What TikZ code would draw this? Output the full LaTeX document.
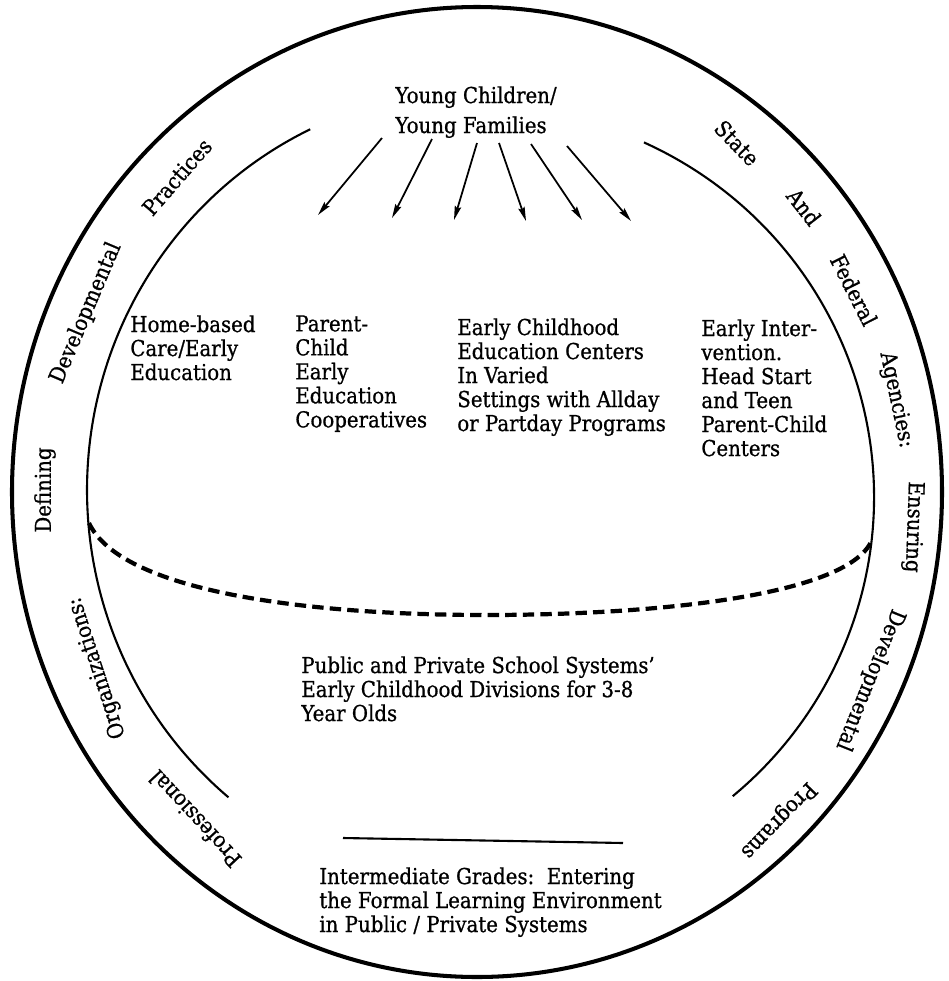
\documentclass[tikz,border=0pt]{standalone}
\usepackage{fontspec}
\setmainfont{DejaVu Serif}[FakeStretch=0.9, FakeBold=0.8]
\usetikzlibrary{arrows.meta}
\begin{document}
\begin{tikzpicture}[
  x=0.02cm, y=-0.02cm,
  box/.style={anchor=north west, align=left, inner sep=0pt, font=\fontsize{12.5}{13.66}\selectfont},
  ring/.style={inner sep=0pt, font=\fontsize{12.5}{15}\selectfont},
  rim/.style={line width=2.3pt},
  inner/.style={line width=1.2pt},
  divide/.style={line width=2.4pt, dash pattern=on 6.5pt off 3.5pt},
  feed/.style={line width=1pt, -{Stealth[length=2.8mm, width=1.3mm, inset=0.4mm]}}
]
\useasboundingbox (0,0) rectangle (949,981);
\draw[rim] (477,492) ellipse [x radius=465, y radius=485];
\draw[inner] (480,490) ++(-115.6:393 and 400) arc[start angle=-115.6, end angle=-230.2, x radius=393, y radius=400];
\draw[inner] (480,497) ++(-65.4:394 and 390) arc[start angle=-65.4, end angle=50.1, x radius=394, y radius=390];
\coordinate (dl) at (89,523);
\coordinate (dm) at (486,615);
\coordinate (dr) at (871,542);
\draw[divide] (dl) .. controls (120,590) and (300,615) .. (dm) .. controls (660,615) and (845,595) .. (dr);
\draw[inner] (343,838) -- (623,843);

\node[box] (young) at (395,86) {Young Children/\\[3.4pt]Young Families};
\foreach \i/\a/\b/\c/\d in {1/382/138/318/215,2/432/139/392/218,3/477/143/454/220,4/499/143/526/221,5/531/144/582/220,6/567/146/631/221} {
  \coordinate (s\i) at (\a,\b);
  \coordinate (t\i) at (\c,\d);
  \draw[feed] (s\i) -- (t\i);
}

\node[box] (home) at (130,315) {Home-based\\Care/Early\\Education};
\node[box] (coop) at (295,315) {Parent-\\Child\\Early\\Education\\Cooperatives};
\node[box] (centers) at (457,318) {Early Childhood\\Education Centers\\In Varied\\Settings with Allday\\or Partday Programs};
\node[box] (interv) at (701,319) {Early Inter-\\vention.\\Head Start\\and Teen\\Parent-Child\\Centers};
\node[box] (schools) at (301,656) {Public and Private School Systems'\\Early Childhood Divisions for 3-8\\Year Olds};
\node[box] (grades) at (319,867) {Intermediate Grades:\ \ Entering\\the Formal Learning Environment\\in Public / Private Systems};

\foreach \t/\x/\y/\r [count=\k] in {Practices/177/177/49,Developmental/86/313/67,Defining/45/490/90,Organizations:/97/668/108,Professional/195/819/133,State/737/143/-46,And/804/207/-52,Federal/854/290/-63,Agencies:/896/400/-78,Ensuring/913/527/-92,Developmental/870/680/-112,Programs/778/820/-134} {
  \node[ring, rotate=\r] (ring\k) at (\x,\y) {\t};
}
\end{tikzpicture}
\end{document}
